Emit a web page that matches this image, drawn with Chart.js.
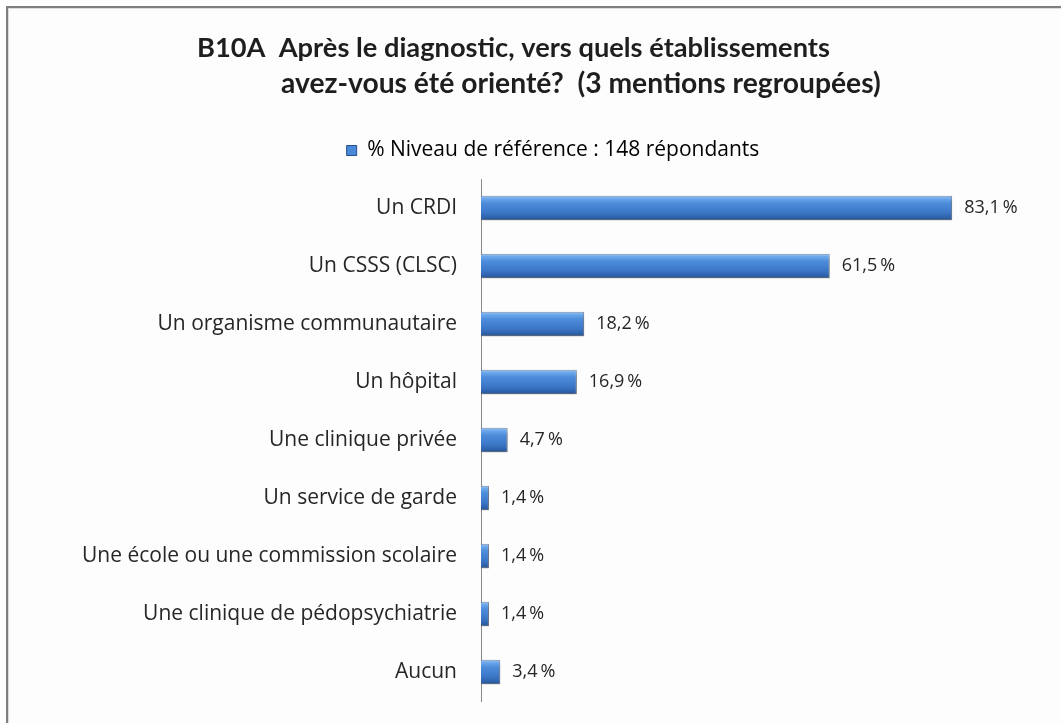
<!DOCTYPE html>
<html>
<head>
<meta charset="utf-8">
<script src="https://cdn.jsdelivr.net/npm/chart.js@4/dist/chart.umd.min.js"></script>
<style>
html,body{margin:0;padding:0;background:#fff;}
#wrap{width:1061px;height:723px;position:relative;}
</style>
</head>
<body>
<div id="wrap"><canvas id="c" width="1061" height="723"></canvas></div>
<script>
const categories = [
  "Un CRDI",
  "Un CSSS (CLSC)",
  "Un organisme communautaire",
  "Un hôpital",
  "Une clinique privée",
  "Un service de garde",
  "Une école ou une commission scolaire",
  "Une clinique de pédopsychiatrie",
  "Aucun"
];
const values = [83.1, 61.5, 18.2, 16.9, 4.7, 1.4, 1.4, 1.4, 3.4];
const seriesLabel = "% Niveau de référence : 148 répondants";
const titleLines = [
  "B10A  Après le diagnostic, vers quels établissements",
  "avez-vous été orienté?  (3 mentions regroupées)"
];

const FONT = "'Open Sans', Lato, 'Liberation Sans', sans-serif";
const TFONT = "Lato, 'Open Sans', sans-serif";
const BAR_PCT = 0.42;

function barGradient(c) {
  const chart = c.chart;
  const ys = chart.scales.y;
  const area = chart.chartArea;
  if (!ys || !area || c.dataIndex === undefined) return '#3f7ccd';
  const cy = ys.getPixelForValue(c.dataIndex);
  const h = (area.bottom - area.top) / categories.length * BAR_PCT;
  const g = chart.ctx.createLinearGradient(0, cy - h / 2, 0, cy + h / 2);
  g.addColorStop(0, '#a6d0f7');
  g.addColorStop(0.1, '#6eaaec');
  g.addColorStop(0.3, '#4d8ddc');
  g.addColorStop(0.7, '#3b76c6');
  g.addColorStop(0.92, '#2c5ea6');
  g.addColorStop(1, '#21487f');
  return g;
}

const bgPlugin = {
  id: 'bg',
  beforeDraw(chart) {
    const ctx = chart.ctx;
    ctx.save();
    ctx.fillStyle = '#ffffff';
    ctx.fillRect(0, 0, chart.width, chart.height);
    ctx.fillStyle = '#fdfdfd';
    ctx.fillRect(8, 8, chart.width - 8, chart.height - 8);
    ctx.fillStyle = '#7f7f7f';
    ctx.fillRect(6, 6, chart.width - 6, 2);
    ctx.fillRect(6, 6, 2, chart.height - 6);
    ctx.fillStyle = '#dcdcdc';
    ctx.fillRect(8, 8, chart.width - 8, 1);
    ctx.fillRect(8, 8, 1, chart.height - 8);
    ctx.restore();
  }
};

function fitFont(ctx, text, target, base) {
  ctx.font = `bold ${base}px ${TFONT}`;
  const w = ctx.measureText(text).width;
  return base * target / w;
}

const titlePlugin = {
  id: 'customTitle',
  afterDraw(chart) {
    const ctx = chart.ctx;
    ctx.save();
    ctx.fillStyle = '#1e1e1e';
    ctx.textAlign = 'left';
    ctx.textBaseline = 'alphabetic';
    const s1 = fitFont(ctx, titleLines[0], 633, 25);
    const s2 = fitFont(ctx, titleLines[1], 600, 25);
    ctx.font = `bold ${s1}px ${TFONT}`;
    ctx.fillText(titleLines[0], 197, 57);
    ctx.font = `bold ${s2}px ${TFONT}`;
    ctx.fillText(titleLines[1], 281, 93);
    ctx.restore();
  }
};

const shadowPlugin = {
  id: 'barShadow',
  beforeDatasetDraw(chart) {
    const ctx = chart.ctx;
    ctx.save();
    ctx.shadowColor = 'rgba(0,0,0,0.35)';
    ctx.shadowBlur = 4;
    ctx.shadowOffsetX = 1;
    ctx.shadowOffsetY = 3;
  },
  afterDatasetDraw(chart) {
    chart.ctx.restore();
  }
};

const valueLabels = {
  id: 'valueLabels',
  afterDatasetsDraw(chart) {
    const ctx = chart.ctx;
    const meta = chart.getDatasetMeta(0);
    ctx.save();
    ctx.font = `18px ${FONT}`;
    ctx.fillStyle = '#262626';
    ctx.textAlign = 'left';
    ctx.textBaseline = 'middle';
    meta.data.forEach((bar, i) => {
      const txt = values[i].toFixed(1).replace('.', ',') + '\u2009%';
      ctx.fillText(txt, bar.x + 12, bar.y);
    });
    ctx.restore();
  }
};

const legendSpacer = {
  id: 'legendSpacer',
  beforeInit(chart) {
    const orig = chart.legend.fit;
    chart.legend.fit = function () {
      orig.bind(chart.legend)();
      this.height += 8;
    };
  }
};

new Chart(document.getElementById('c'), {
  type: 'bar',
  data: {
    labels: categories,
    datasets: [{
      label: seriesLabel,
      data: values,
      backgroundColor: barGradient,
      borderColor: 'rgba(30,60,110,0.6)',
      borderWidth: 1,
      borderSkipped: 'left',
      categoryPercentage: 1,
      barPercentage: BAR_PCT
    }]
  },
  options: {
    indexAxis: 'y',
    responsive: false,
    animation: false,
    devicePixelRatio: 1,
    layout: { padding: { left: 58, right: 13, top: 130, bottom: 22 } },
    scales: {
      x: { display: false, min: 0, max: 100 },
      y: {
        grid: { display: false, drawTicks: false },
        border: { display: true, color: '#8a8a8a', width: 1 },
        ticks: { color: '#262626', font: { family: FONT, size: 21 }, padding: 24 },
        afterFit(scale) {
          scale.width = 481 - 58;
          scale.paddingTop = 0;
          scale.paddingBottom = 0;
        }
      }
    },
    plugins: {
      title: { display: false },
      tooltip: { enabled: false },
      legend: {
        display: true,
        position: 'top',
        labels: {
          color: '#262626',
          font: { family: FONT, size: 21 },
          boxWidth: 10,
          boxHeight: 10,
          padding: 10,
          generateLabels(chart) {
            return [{
              text: seriesLabel,
              fillStyle: '#4a88d8',
              strokeStyle: '#234f8c',
              lineWidth: 1,
              hidden: false,
              datasetIndex: 0
            }];
          }
        }
      }
    }
  },
  plugins: [bgPlugin, shadowPlugin, valueLabels, titlePlugin, legendSpacer]
});
</script>
</body>
</html>
